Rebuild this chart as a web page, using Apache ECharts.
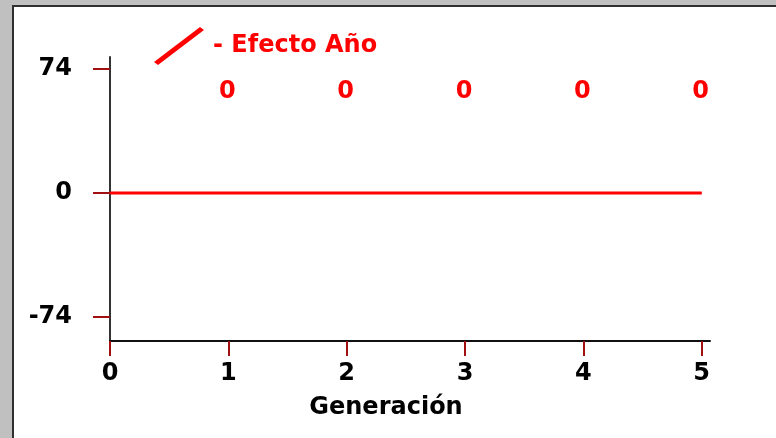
<!DOCTYPE html>
<html>
<head>
<meta charset="utf-8">
<script src="https://cdn.jsdelivr.net/npm/echarts@6/dist/echarts.min.js"></script>
<style>
  html, body { margin: 0; padding: 0; width: 776px; height: 438px; background: #c0c0c0; overflow: hidden; }
  #panel { position: absolute; left: 12px; top: 5px; width: 764px; height: 433px; background: #ffffff;
           border-left: 2px solid #303030; border-top: 2px solid #303030; box-sizing: border-box; }
  #chart { position: absolute; left: 0; top: 0; width: 776px; height: 438px; }
</style>
</head>
<body>
<div id="panel"></div>
<div id="chart"></div>
<script>
const generations = [0, 1, 2, 3, 4, 5];
const efectoAno = [0, 0, 0, 0, 0, 0];
const yTicks = [-74, 0, 74];
const xTicks = [0, 1, 2, 3, 4, 5];
const seriesName = 'Efecto Año';
const xAxisName = 'Generación';

const FONT = 'DejaVu Sans';
const chart = echarts.init(document.getElementById('chart'), null, { renderer: 'canvas' });

const data = generations.map((g, i) => ({
  value: [g, efectoAno[i]],
  label: { show: i > 0 }
}));

chart.setOption({
  backgroundColor: 'transparent',
  animation: false,
  grid: { left: 110, right: 66, top: 57, bottom: 97 },
  legend: {
    left: 154, top: 27, padding: 0,
    itemWidth: 50, itemHeight: 38, itemGap: 10,
    icon: 'path://M0,35 L46,0 L50,3 L4,38 Z',
    formatter: n => '- ' + n,
    textStyle: { color: '#ff0000', fontFamily: FONT, fontWeight: 'bold', fontSize: 24, padding: [0, 0, 0, 4] },
    data: [{ name: seriesName, itemStyle: { color: '#ff0000' } }]
  },
  xAxis: {
    type: 'value', min: 0, max: 5.07,
    name: xAxisName, nameLocation: 'middle', nameGap: 55,
    nameTextStyle: { color: '#000', fontFamily: FONT, fontWeight: 'bold', fontSize: 24, padding: [0, 48, 0, 0] },
    axisLine: { show: true, onZero: false, lineStyle: { color: '#111', width: 2 } },
    axisTick: { show: true, inside: false, length: 15, customValues: xTicks, lineStyle: { color: '#a01010', width: 2 } },
    axisLabel: { show: true, margin: 21, customValues: xTicks, color: '#000', fontFamily: FONT, fontWeight: 'bold', fontSize: 24, formatter: v => String(v) },
    splitLine: { show: false }
  },
  yAxis: {
    type: 'value', min: -88.3, max: 81.1,
    axisLine: { show: true, onZero: false, lineStyle: { color: '#333', width: 2 } },
    axisTick: { show: true, inside: false, length: 17, customValues: yTicks, lineStyle: { color: '#a01010', width: 2 } },
    axisLabel: { show: true, margin: 38, customValues: yTicks, color: '#000', fontFamily: FONT, fontWeight: 'bold', fontSize: 24, formatter: v => String(v) },
    splitLine: { show: false }
  },
  series: [{
    name: seriesName,
    type: 'line',
    data: data,
    symbol: 'circle',
    symbolSize: 1,
    showSymbol: true,
    lineStyle: { color: '#ff0000', width: 3 },
    itemStyle: { color: '#ff0000' },
    label: {
      show: true,
      position: 'inside', offset: [-1, -101],
      color: '#ff0000', fontFamily: FONT, fontWeight: 'bold', fontSize: 24,
      formatter: p => String(p.value[1])
    }
  }]
});
</script>
</body>
</html>
